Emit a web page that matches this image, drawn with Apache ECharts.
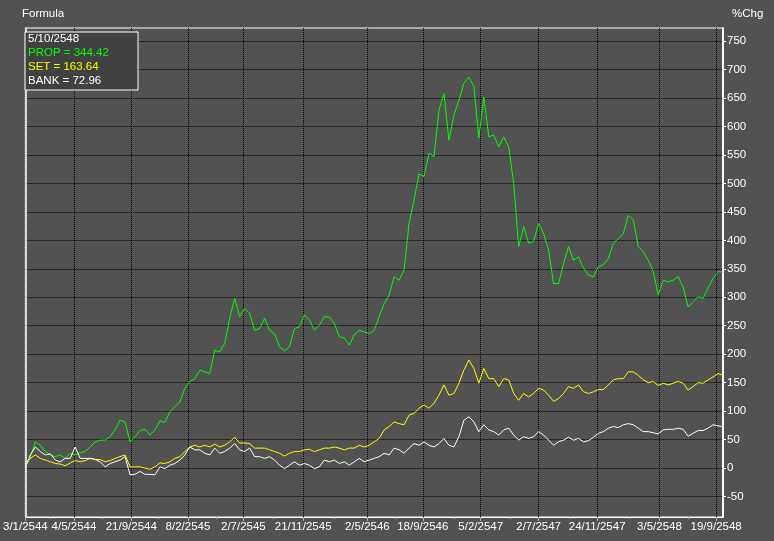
<!DOCTYPE html>
<html><head><meta charset="utf-8">
<script src="https://cdn.jsdelivr.net/npm/echarts@6/dist/echarts.min.js"></script>
<style>html,body{margin:0;padding:0;background:#525252;}#c{width:774px;height:541px;}</style>
</head><body><div id="c"></div>
<script>
// sampling interval (trading days) between successive values
const STEP = 8;
const prop = [2, 20, 46, 40, 29, 23, 20, 23, 17, 26, 23, 27, 29, 37, 46, 49, 49, 55, 67, 84, 81, 46, 55, 66,
  68, 58, 67, 83, 80, 99, 108, 116, 140, 152, 157, 172, 169, 166, 207, 204, 219, 263, 298, 266, 280, 272, 242,
  245, 263, 242, 236, 213, 206, 213, 245, 248, 269, 260, 242, 251, 266, 265, 254, 231, 228, 216, 234, 242, 239,
  236, 242, 266, 289, 304, 336, 330, 348, 430, 471, 517, 512, 553, 547, 629, 658, 576, 620, 646, 676, 687, 670, 580,
  652, 582, 585, 564, 582, 564, 500, 389, 424, 395, 398, 430, 412, 383, 324, 324, 359, 389, 365, 371, 351, 339, 336, 354,
  357, 368, 395, 403, 412, 444, 436, 389, 380, 365, 345, 304, 330, 327, 330, 336, 318, 283, 292, 301, 298, 316, 333, 345, 344];
const setIdx = [5, 17, 23, 17, 14, 11, 8, 7, 4, 9, 13, 11, 13, 17, 15, 15, 11, 13, 17, 20, 23, 2, 2, 2,
  0, -2, 2, 9, 8, 11, 17, 20, 29, 37, 40, 37, 40, 37, 42, 37, 40, 46, 54, 44, 44, 43, 35,
  35, 35, 32, 29, 26, 21, 26, 29, 29, 32, 33, 29, 32, 35, 35, 37, 35, 32, 35, 35, 40, 37,
  40, 46, 52, 67, 73, 81, 78, 76, 93, 96, 105, 111, 105, 114, 128, 146, 128, 131, 149, 172, 190, 175, 149,
  175, 157, 157, 143, 157, 155, 131, 119, 131, 125, 131, 140, 137, 128, 117, 122, 131, 143, 140, 146, 134, 131, 134, 138,
  138, 146, 155, 157, 157, 169, 169, 163, 155, 150, 152, 145, 149, 146, 149, 152, 149, 137, 143, 150, 149, 155, 160, 166, 163];
const bank = [2, 23, 37, 29, 23, 25, 14, 11, 17, 17, 37, 17, 17, 17, 15, 11, 2, 8, 11, 14, 20, -12, -11, -6,
  -11, -11, -12, 2, -1, 5, 8, 14, 23, 37, 32, 32, 26, 23, 35, 26, 29, 35, 43, 32, 29, 35, 20,
  20, 17, 20, 14, 5, -1, 5, 11, 5, 8, 5, -1, 2, 14, 11, 14, 8, 11, 5, 11, 17, 11,
  14, 17, 20, 26, 23, 35, 32, 26, 35, 43, 40, 46, 40, 37, 43, 52, 40, 37, 55, 84, 90, 81, 64,
  76, 67, 64, 58, 67, 70, 58, 49, 55, 52, 55, 64, 58, 49, 40, 46, 49, 54, 49, 52, 46, 48, 54, 61,
  64, 70, 73, 71, 76, 78, 76, 70, 64, 64, 62, 60, 67, 68, 68, 70, 68, 56, 61, 66, 66, 70, 76, 74, 73];
const tickDays = [0, 78, 170, 261, 350, 446, 549, 638, 731, 824, 918, 1018, 1109];
const tickLabels = ['3/1/2544', '4/5/2544', '21/9/2544', '8/2/2545', '2/7/2545', '21/11/2545', '2/5/2546',
  '18/9/2546', '5/2/2547', '2/7/2547', '24/11/2547', '3/5/2548', '19/9/2548'];
const minorDays = [40, 123, 214, 306, 398, 496, 595, 688, 778, 874, 970, 1064];
const yTicks = [-50, 0, 50, 100, 150, 200, 250, 300, 350, 400, 450, 500, 550, 600, 650, 700, 750];
const lastDate = '5/10/2548';
const seriesNames = ['PROP', 'SET', 'BANK'];
const lastValues = [344.42, 163.64, 72.96];

const FONT = "'Liberation Sans', Arial, sans-serif";
const colors = ['#00ff00', '#ffff00', '#ffffff'];
const toPairs = arr => arr.map((v, i) => [i * STEP, v]);
const gridDot = { show: true, lineStyle: { color: '#000', width: 1, type: [1, 1] } };

const chart = echarts.init(document.getElementById('c'), null, { renderer: 'canvas' });
chart.setOption({
  animation: false,
  backgroundColor: '#525252',
  textStyle: { fontFamily: FONT },
  grid: { left: 23, right: 51, top: 28, bottom: 24, show: true, borderColor: '#ffffff', borderWidth: 1, backgroundColor: 'transparent' },
  xAxis: [{
    type: 'value', min: 0, max: 1120,
    axisLine: { show: true, onZero: false, lineStyle: { color: '#ffffff', width: 1 } },
    axisTick: { show: true, customValues: tickDays, length: 4, lineStyle: { color: '#b0b0b0' } },
    axisLabel: { show: true, customValues: tickDays, color: '#ffffff', fontSize: 11.5, fontFamily: FONT, margin: 4,
      formatter: v => { const k = tickDays.indexOf(v); return k >= 0 ? tickLabels[k] : ''; } },
    splitLine: gridDot
  }, {
    type: 'value', min: 0, max: 1120, position: 'bottom',
    axisLine: { show: false, onZero: false },
    axisTick: { show: true, customValues: minorDays, length: 2, lineStyle: { color: '#b0b0b0' } },
    axisLabel: { show: false },
    splitLine: { show: false }
  }],
  yAxis: [{
    type: 'value', position: 'right', min: -86, max: 773,
    axisLine: { show: true, onZero: false, lineStyle: { color: '#ffffff', width: 2 } },
    axisTick: { show: true, customValues: yTicks, length: 3, lineStyle: { color: '#ffffff' } },
    axisLabel: { show: true, customValues: yTicks, color: '#ffffff', fontSize: 11.5, fontFamily: FONT, margin: 4 },
    splitLine: gridDot
  }, {
    type: 'value', position: 'left', min: -86, max: 773,
    axisLine: { show: true, onZero: false, lineStyle: { color: '#ffffff', width: 1.5 } },
    axisTick: { show: false }, axisLabel: { show: false }, splitLine: { show: false }
  }],
  series: [prop, setIdx, bank].map((arr, k) => ({
    name: seriesNames[k], type: 'line', xAxisIndex: 0, yAxisIndex: 0, data: toPairs(arr), showSymbol: false,
    lineStyle: { color: colors[k], width: 1 }, itemStyle: { color: colors[k] }, z: 3 + k
  })),
  graphic: [
    { type: 'text', left: 22, top: 8, style: { text: 'Formula', fill: '#ffffff', font: '11.5px ' + FONT } },
    { type: 'text', left: 732, top: 8, style: { text: '%Chg', fill: '#ffffff', font: '11.5px ' + FONT } },
    { type: 'rect', shape: { x: 25, y: 32, width: 113, height: 58 }, style: { fill: '#414141', stroke: '#ffffff', lineWidth: 1 }, z: 10 },
    { type: 'text', x: 28, y: 33, z: 11, style: { text: lastDate, fill: '#ffffff', font: '11.5px ' + FONT } },
    ...seriesNames.map((n, k) => ({ type: 'text', x: 28, y: 47 + k * 14, z: 11,
      style: { text: n + ' = ' + lastValues[k].toFixed(2), fill: colors[k], font: '11.5px ' + FONT } }))
  ]
});
</script></body></html>
